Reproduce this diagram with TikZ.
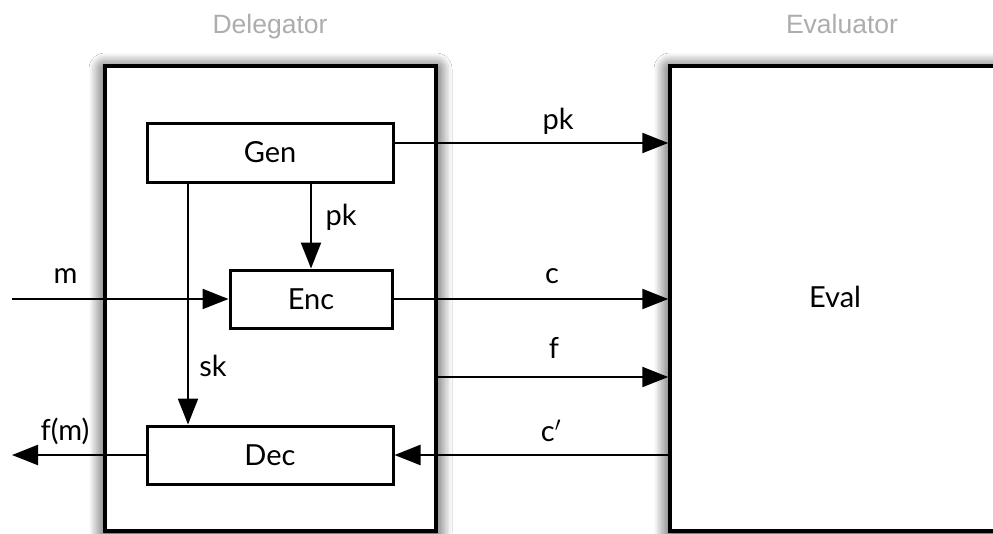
\documentclass[tikz,border=0pt]{standalone}
\usepackage{fontspec}
\setmainfont{Lato}
\newfontfamily\helv{Liberation Sans}
\usetikzlibrary{arrows.meta,shadows.blur}
\begin{document}
\begin{tikzpicture}[x=1pt,y=-1pt,
  bigbox/.style={draw=black, line width=3.5pt, fill=white, inner sep=0pt,
    blur shadow={shadow xshift=0pt, shadow yshift=-3pt, shadow blur radius=16pt, shadow blur steps=12, shadow opacity=95}},
  procbox/.style={draw=black, line width=3pt, fill=white, inner sep=0pt, font=\fontsize{29}{32}\selectfont},
  conn/.style={line width=2.3pt, -{Triangle[length=26pt,width=20pt]}},
  lbl/.style={anchor=base, inner sep=0pt, font=\fontsize{29}{32}\selectfont},
  title/.style={anchor=base, inner sep=0pt, font=\helv\fontsize{26.5}{30}\selectfont, text=black!32}
]
\useasboundingbox (0,0) rectangle (993,533);
\clip (0,0) rectangle (993,533);
\fill[white] (0,0) rectangle (993,533);

\node[title] (tdeleg) at (270,33) {Delegator};
\node[title] (teval) at (842,33) {Evaluator};

\node[bigbox, minimum width=331pt, minimum height=465pt] (deleg) at (270.5,298.5) {};
\node[bigbox, minimum width=340pt, minimum height=465pt] (eval) at (840,298.5) {};

\node[procbox, minimum width=246pt, minimum height=59pt] (Gen) at (270,152.5) {Gen};
\node[procbox, minimum width=162pt, minimum height=58pt] (Enc) at (311,299) {Enc};
\node[procbox, minimum width=246pt, minimum height=58pt] (Dec) at (270,455) {Dec};
\node[lbl] (evallbl) at (835,307) {Eval};

\coordinate (g1) at ([yshift=9.5pt]Gen.east);
\coordinate (min) at (12,299);
\coordinate (fs) at (deleg.east |- 0,377);
\coordinate (fout) at (12,455);
\coordinate (skx) at (188,0);

\draw[conn] (g1) -- (g1 -| eval.west);
\draw[conn] (min) -- (Enc.west);
\draw[conn] (Enc.east) -- (Enc.east -| eval.west);
\draw[conn] (fs) -- (fs -| eval.west);
\draw[conn] (eval.west |- Dec.east) -- (Dec.east);
\draw[conn] (Dec.west) -- (fout);
\draw[conn] (Gen.south -| Enc.north) -- (Enc.north);
\draw[conn] (Gen.south -| skx) -- (Dec.north -| skx);

\node[lbl] (lpk) at (558,129) {pk};
\node[lbl] (lc) at (552,283) {c};
\node[lbl] (lf) at (554,358) {f};
\node[lbl] (lcp) at (551,441) {c$'$};
\node[lbl] (lm) at (65.5,283) {m};
\node[lbl] (lfm) at (65,440) {f(m)};
\node[lbl] (lsk) at (213,376) {sk};
\node[lbl] (lpk2) at (341,225) {pk};
\end{tikzpicture}
\end{document}
